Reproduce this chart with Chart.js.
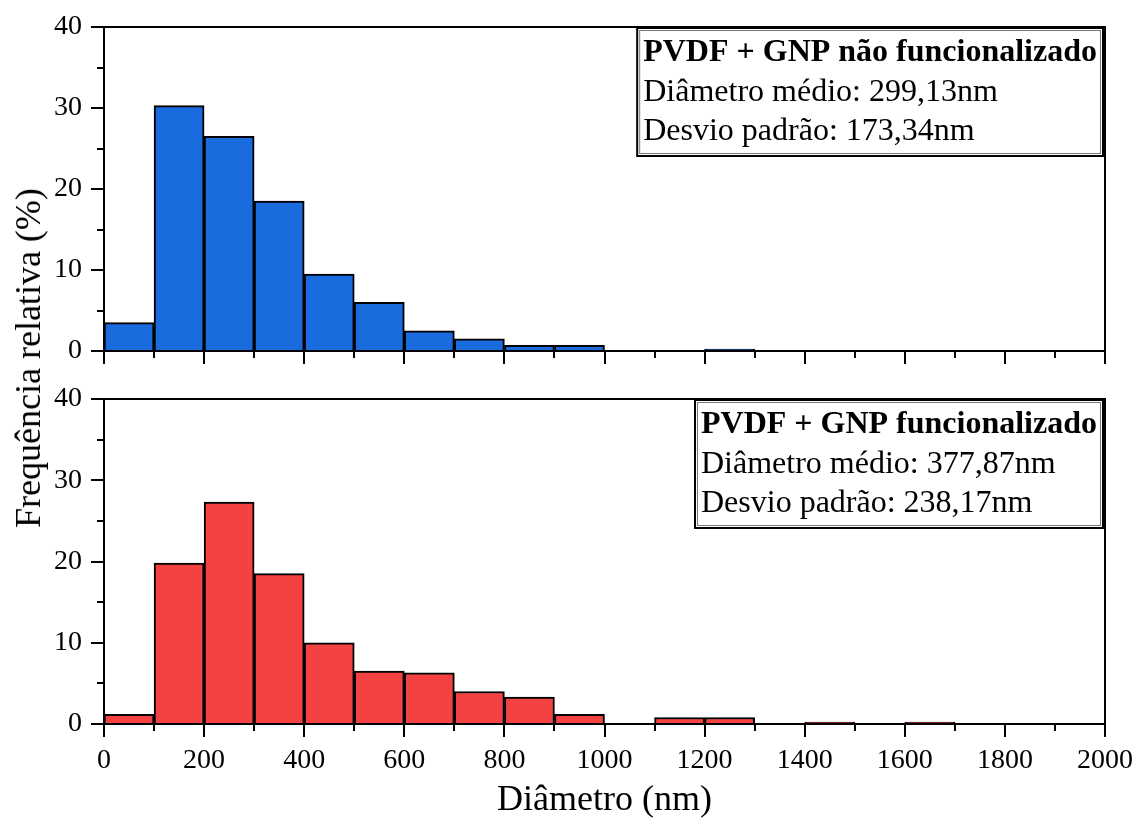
<!DOCTYPE html>
<html>
<head>
<meta charset="utf-8">
<script src="https://cdn.jsdelivr.net/npm/chart.js@4.4.1/dist/chart.umd.min.js"></script>
<style>
  html, body { margin: 0; padding: 0; background: #ffffff; }
  #wrap { position: relative; width: 1137px; height: 829px; overflow: hidden; background: #fff; }
  #c1 { position: absolute; left: 0; top: 0; }
  #c2 { position: absolute; left: 0; top: 375px; }
  #ytitle {
    position: absolute; left: 28px; top: 358px;
    transform: translate(-50%, -50%) rotate(-90deg);
    font-family: "Liberation Serif", "Times New Roman", serif;
    font-size: 36px; color: #000; white-space: nowrap; line-height: 1;
  }
</style>
</head>
<body>
<div id="wrap">
  <canvas id="c1" width="1137" height="375"></canvas>
  <canvas id="c2" width="1137" height="454"></canvas>
  <div id="ytitle">Frequência relativa (%)</div>
</div>
<script>
// ---------------- data ----------------
const binStarts = [0,100,200,300,400,500,600,700,800,900,1000,1100,1200,1300,1400,1500,1600,1700,1800,1900];
const binWidth = 100;
const freqNaoFuncionalizado = [3.5,30.3,26.5,18.5,9.5,6.0,2.5,1.5,0.7,0.7,0,0,0.25,0,0,0,0,0,0,0];
const freqFuncionalizado    = [1.2,19.8,27.3,18.5,10.0,6.5,6.3,4.0,3.3,1.2,0,0.8,0.8,0,0.25,0,0.25,0,0,0];
const xTickValues = [0,200,400,600,800,1000,1200,1400,1600,1800,2000];
const yTickValues = [0,10,20,30,40];
const xMinorStep = 100;
const yMinorStep = 5;
const xTitle = 'Diâmetro (nm)';
const annotTop = ['PVDF + GNP não funcionalizado', 'Diâmetro médio: 299,13nm', 'Desvio padrão: 173,34nm'];
const annotBottom = ['PVDF + GNP funcionalizado', 'Diâmetro médio: 377,87nm', 'Desvio padrão: 238,17nm'];

const SERIF = "'Liberation Serif', 'Times New Roman', serif";

// frame + ticks plugin
const frameTicks = {
  id: 'frameTicks',
  afterDraw(chart) {
    const {ctx, chartArea: a, scales: {x, y}} = chart;
    ctx.save();
    ctx.strokeStyle = '#000';
    ctx.lineWidth = 2;
    ctx.beginPath();
    for (let v = x.min; v <= x.max; v += xMinorStep) {
      const px = Math.round(x.getPixelForValue(v));
      const major = xTickValues.includes(v);
      ctx.moveTo(px, a.bottom);
      ctx.lineTo(px, a.bottom + (major ? 13 : 7));
    }
    for (let v = y.min; v <= y.max; v += yMinorStep) {
      const py = Math.round(y.getPixelForValue(v));
      const major = yTickValues.includes(v);
      ctx.moveTo(a.left, py);
      ctx.lineTo(a.left - (major ? 13 : 7), py);
    }
    ctx.stroke();
    ctx.strokeRect(a.left, a.top, a.right - a.left, a.bottom - a.top);
    ctx.restore();
  }
};

// annotation box plugin
const annotBox = {
  id: 'annotBox',
  afterDraw(chart, args, opts) {
    const lines = opts.lines;
    if (!lines) return;
    const {ctx, chartArea: a} = chart;
    ctx.save();
    const boldFont = 'bold 32px ' + SERIF;
    const normFont = '32px ' + SERIF;
    let maxW = 0;
    lines.forEach((t, i) => {
      ctx.font = i === 0 ? boldFont : normFont;
      maxW = Math.max(maxW, ctx.measureText(t).width);
    });
    const padX = 5;
    const w = maxW + padX * 2 + 2;
    const h = 128;
    const right = a.right - 2;
    const top = a.top + 1;
    const left = right - w;
    ctx.fillStyle = '#fff';
    ctx.fillRect(left, top, w, h);
    ctx.strokeStyle = '#000';
    ctx.lineWidth = 2;
    ctx.strokeRect(left, top, w, h);
    ctx.strokeStyle = '#777';
    ctx.lineWidth = 1;
    ctx.strokeRect(left + 2.5, top + 2.5, w - 5, h - 5);
    ctx.fillStyle = '#000';
    ctx.textBaseline = 'alphabetic';
    ctx.textAlign = 'left';
    const baselines = [33, 73, 112];
    lines.forEach((t, i) => {
      ctx.font = i === 0 ? boldFont : normFont;
      ctx.fillText(t, left + padX + 1, top + baselines[i]);
    });
    ctx.restore();
  }
};

function makeChart(canvasId, values, color, lines, isBottom) {
  const points = binStarts.map((s, i) => ({ x: s + binWidth / 2, y: values[i] === 0 ? null : values[i] }));
  return new Chart(document.getElementById(canvasId), {
    type: 'bar',
    data: {
      datasets: [{
        data: points,
        backgroundColor: color,
        borderColor: '#000',
        borderWidth: 2,
        barPercentage: 1.0,
        categoryPercentage: 1.0,
        borderSkipped: 'bottom'
      }]
    },
    options: {
      responsive: false,
      animation: false,
      devicePixelRatio: 1,
      layout: { padding: { left: 0, right: 32, top: isBottom ? 24 : 27, bottom: 0 } },
      plugins: {
        legend: { display: false },
        tooltip: { enabled: false },
        annotBox: { lines: lines }
      },
      scales: {
        x: {
          type: 'linear',
          min: 0, max: 2000,
          offset: false,
          afterBuildTicks: s => { s.ticks = xTickValues.map(v => ({ value: v })); },
          afterFit: s => {
            s.height = isBottom ? 105 : 24;
            s.paddingLeft = 0; s.paddingRight = 0;
          },
          grid: { display: true, drawOnChartArea: false, drawTicks: true, tickLength: 13, tickColor: 'rgba(0,0,0,0)' },
          border: { display: false },
          ticks: {
            display: isBottom,
            color: '#000',
            padding: 7,
            maxRotation: 0,
            autoSkip: false,
            font: { family: SERIF, size: 28 },
            callback: v => String(v)
          },
          title: {
            display: isBottom,
            text: xTitle,
            color: '#000',
            font: { family: SERIF, size: 36 },
            padding: { top: 0, bottom: 7 }
          }
        },
        y: {
          min: 0, max: 40,
          afterBuildTicks: s => { s.ticks = yTickValues.map(v => ({ value: v })); },
          afterFit: s => {
            s.width = 104;
            s.paddingTop = 0; s.paddingBottom = 0;
          },
          grid: { display: true, drawOnChartArea: false, drawTicks: true, tickLength: 12, tickColor: 'rgba(0,0,0,0)' },
          border: { display: false },
          ticks: {
            color: '#000',
            padding: 10,
            font: { family: SERIF, size: 28 },
            callback: v => String(v)
          }
        }
      }
    },
    plugins: [frameTicks, annotBox]
  });
}

makeChart('c1', freqNaoFuncionalizado, '#1A6BDE', annotTop, false);
makeChart('c2', freqFuncionalizado, '#F44242', annotBottom, true);
</script>
</body>
</html>
